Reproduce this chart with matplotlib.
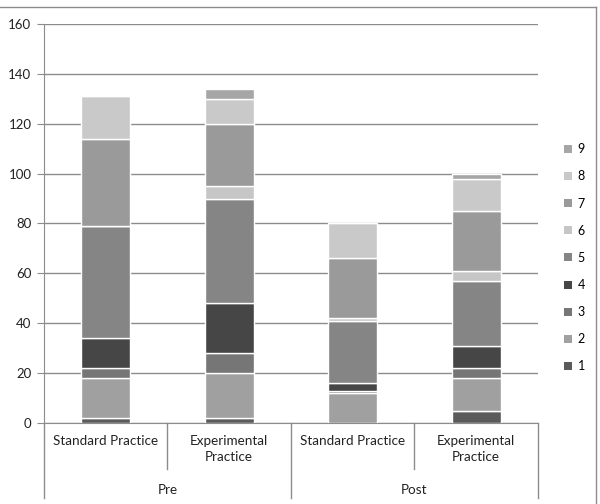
import numpy as np
import matplotlib.pyplot as plt
from matplotlib.patches import Patch
from matplotlib.lines import Line2D

plt.rcParams['font.family'] = ['Lato', 'DejaVu Sans']

groups = ['Pre', 'Post']
practices = ['Standard Practice', 'Experimental\nPractice', 'Standard Practice', 'Experimental\nPractice']
series = ['1', '2', '3', '4', '5', '6', '7', '8', '9']

# values per series, one entry per bar (Pre-Std, Pre-Exp, Post-Std, Post-Exp)
s1 = [2, 2, 0, 5]
s2 = [16, 18, 12, 13]
s3 = [4, 8, 1, 4]
s4 = [12, 20, 3, 9]
s5 = [45, 42, 25, 26]
s6 = [0, 5, 1, 4]
s7 = [35, 25, 24, 24]
s8 = [17, 10, 14, 13]
s9 = [0, 4, 0, 2]
values = [s1, s2, s3, s4, s5, s6, s7, s8, s9]

colors = ['#5a5a5a', '#a0a0a0', '#767676', '#464646', '#858585',
          '#c6c6c6', '#9a9a9a', '#c9c9c9', '#a6a6a6']

fig = plt.figure(figsize=(6, 5.04), dpi=100)
ax = fig.add_axes([0.0733, 0.1607, 0.8233, 0.7917])

x = np.arange(len(practices))
bottom = np.zeros(len(practices))
for vals, col in zip(values, colors):
    ax.bar(x, vals, width=0.4, bottom=bottom, color=col, edgecolor='white',
           linewidth=1.0, zorder=3)
    bottom += np.array(vals)

ax.set_xlim(-0.5, len(practices) - 0.5)
ax.set_ylim(0, 160)
ax.set_yticks(np.arange(0, 161, 20))
ax.yaxis.grid(True, color='#8c8c8c', linewidth=1.0, zorder=0)
ax.tick_params(axis='y', length=5, color='#8c8c8c', labelsize=9.5, labelcolor='#222222', pad=4)
ax.set_xticks([])
for side in ['top', 'right']:
    ax.spines[side].set_visible(False)
ax.spines['left'].set_color('#8c8c8c')
ax.spines['bottom'].set_color('#8c8c8c')

# hierarchical category axis
trans = ax.get_xaxis_transform()
line_kw = dict(color='#8c8c8c', linewidth=1.0, clip_on=False, transform=trans)
for i, lab in enumerate(practices):
    ax.text(i, -0.03, lab, ha='center', va='top', fontsize=9.7, color='#222222',
            transform=trans, linespacing=1.45)
for b in [0.5, 2.5]:
    ax.plot([b, b], [0, -0.115], **line_kw)
for b in [-0.5, 1.5, 3.5]:
    ax.plot([b, b], [0, -0.188], **line_kw)
for g, lab in enumerate(groups):
    ax.text(2 * g + 0.5, -0.168, lab, ha='center', va='center', fontsize=9.7,
            color='#222222', transform=trans)

handles = [Patch(facecolor=c, edgecolor='none', label=s) for s, c in zip(series, colors)]
ax.legend(handles=handles[::-1], loc='center left', bbox_to_anchor=(1.03, 0.414),
          frameon=False, fontsize=9, handlelength=0.6, handleheight=0.6,
          handletextpad=0.5, labelspacing=1.21)

# chart frame: top and right edges
fig.add_artist(Line2D([0, 596 / 600], [1 - 7 / 504, 1 - 7 / 504], color='#8c8c8c', linewidth=1.0))
fig.add_artist(Line2D([596 / 600, 596 / 600], [0, 1 - 7 / 504], color='#8c8c8c', linewidth=1.0))

fig.savefig('out.png', dpi=100)
